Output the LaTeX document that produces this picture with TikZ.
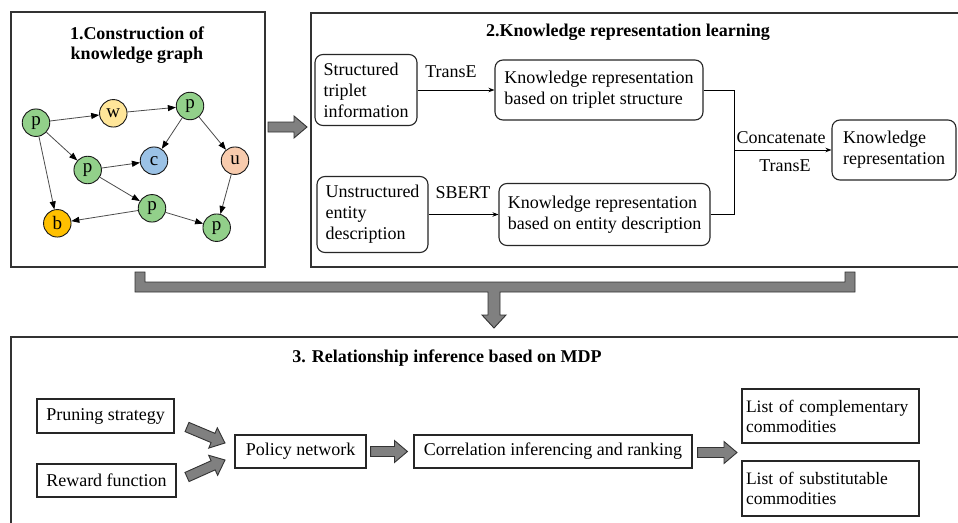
\documentclass[tikz,border=0pt]{standalone}
\usepackage{fontspec}
\setmainfont{Liberation Serif}[BoldFont={Liberation Serif Bold}]
\usetikzlibrary{arrows.meta,calc}
\definecolor{gp}{RGB}{146,208,138}
\definecolor{gw}{RGB}{255,230,153}
\definecolor{gc}{RGB}{155,194,230}
\definecolor{gu}{RGB}{248,203,173}
\definecolor{gb}{RGB}{255,192,0}
\newcommand\blockarr[2]{%
  \coordinate (hb) at ($(#2)!13pt!(#1)$);
  \draw[blk] ($(#1)!5pt!90:(#2)$) -- ($(hb)!5pt!-90:(#1)$) -- ($(hb)!11pt!-90:(#1)$) -- (#2)
    -- ($(hb)!11pt!90:(#1)$) -- ($(hb)!5pt!90:(#1)$) -- ($(#1)!5pt!-90:(#2)$) -- cycle;}
\begin{document}
\begin{tikzpicture}[x=1pt,y=-1pt,
  txt/.style={font=\fontsize{18}{21}\selectfont},
  ttl/.style={font=\fontsize{18}{20}\selectfont\bfseries, align=center},
  panel/.style={draw=black!80, line width=1.3pt},
  rbox/.style={draw=black!85, line width=1.1pt, rounded corners=8pt, align=left, inner sep=0pt, txt},
  sbox/.style={draw=black!85, line width=1.1pt, align=left, inner sep=0pt, txt},
  lbox/.style={draw=black!85, line width=1.1pt, align=left, inner xsep=4pt, inner ysep=0pt,
    text width=169pt, minimum width=177pt, font=\fontsize{17.5}{20}\selectfont},
  gnode/.style={circle, draw=black!90, line width=0.9pt, minimum size=27.5pt, inner sep=0pt, font=\fontsize{19}{21}\selectfont},
  gedge/.style={draw=black!70, line width=0.8pt, -{Triangle[length=8pt,width=6pt,fill=black,color=black]}},
  thin/.style={draw=black, line width=0.8pt, -{Stealth[length=6pt,width=4.5pt]}},
  blk/.style={fill=black!50, draw=black!80, line width=0.9pt, line join=miter}]
\useasboundingbox (0,0) rectangle (958,522);
\fill[white] (0,0) rectangle (958,522);
\begin{scope}
\clip (0,0) rectangle (958,522);
\draw[panel] (11,12) rectangle (265,267);
\draw[panel] (311,13) rectangle (975,267);
\draw[panel] (11,337) rectangle (975,540);
\end{scope}

% Panel 1
\node[ttl] (t1) at (137,45) {1.Construction of\\knowledge graph};
\node[gnode, fill=gp] (p1) at (36,122.7) {p};
\node[gnode, fill=gw] (w) at (113.3,113.3) {w};
\node[gnode, fill=gp] (pt) at (190,106) {p};
\node[gnode, fill=gc] (c) at (154,160.7) {c};
\node[gnode, fill=gu] (u) at (235,160.7) {u};
\node[gnode, fill=gp] (pm) at (87.7,170) {p};
\node[gnode, fill=gp] (pl) at (152,208.3) {p};
\node[gnode, fill=gb] (b) at (57.3,223.3) {b};
\node[gnode, fill=gp] (pr) at (216.7,227.7) {p};
\draw[gedge] (p1) -- (w);
\draw[gedge] (w) -- (pt);
\draw[gedge] (pt) -- (c);
\draw[gedge] (pt) -- (u);
\draw[gedge] (p1) -- (pm);
\draw[gedge] (pm) -- (c);
\draw[gedge] (p1) -- (b);
\draw[gedge] (pm) -- (pl);
\draw[gedge] (pl) -- (b);
\draw[gedge] (pl) -- (pr);
\draw[gedge] (u) -- (pr);

% Panel 1 -> Panel 2
\coordinate (a0s) at (268,127);
\coordinate (a0e) at (307,127);
\blockarr{a0s}{a0e}

% Panel 2
\node[ttl] (t2) at (628,32) {2.Knowledge representation learning};
\node[rbox, minimum width=102pt, minimum height=71pt] (st) at (366,90) {Structured\\triplet\\information};
\node[rbox, minimum width=208pt, minimum height=60pt] (kt) at (599,90) {Knowledge representation\\based on triplet structure};
\node[rbox, minimum width=111pt, minimum height=76pt] (ue) at (372.5,214.5) {Unstructured\\entity\\description};
\node[rbox, minimum width=211pt, minimum height=62pt] (ke) at (604.5,214.5) {Knowledge representation\\based on entity description};
\node[rbox, minimum width=124pt, minimum height=60pt] (kr) at (894,150) {Knowledge\\representation};
\draw[thin] (st) -- (kt);
\draw[thin] (ue) -- (ke);
\node[txt] (l1) at (451,72) {TransE};
\node[txt] (l2) at (463,193) {SBERT};
\coordinate (jx) at (734,150);
\draw[draw=black, line width=0.8pt] (kt.east) -| (jx);
\draw[draw=black, line width=0.8pt] (ke.east) -| (jx);
\draw[thin] (jx) -- (kr);
\node[txt] (l3) at (781,138) {Concatenate};
\node[txt] (l4) at (785,166) {TransE};

% Bracket arrow
\draw[blk] (135,272) -- (145,272) -- (145,282) -- (845,282) -- (845,272) -- (855,272)
  -- (855,292) -- (500,292) -- (500,315) -- (506,315) -- (494,328) -- (482,315)
  -- (488,315) -- (488,292) -- (135,292) -- cycle;

% Panel 3
\node[ttl] (t3) at (447,358) {3. Relationship inference based on MDP};
\node[sbox, minimum width=137pt, minimum height=34pt] (ps) at (105.5,416) {Pruning strategy};
\node[sbox, minimum width=139pt, minimum height=33pt] (rf) at (106.5,480.5) {Reward function};
\node[sbox, minimum width=131pt, minimum height=33pt] (pn) at (300.5,451.5) {Policy network};
\node[sbox, minimum width=278pt, minimum height=33pt] (ci) at (553,451.5) {Correlation inferencing and ranking};
\node[lbox, minimum height=54pt] (lc) at (830.5,416) {List of complementary\\commodities};
\node[lbox, minimum height=55pt] (ls) at (830.5,488.5) {List of substitutable\\commodities};
\coordinate (a1s) at (187,427);
\coordinate (a1e) at (225,443);
\coordinate (a2s) at (187,477);
\coordinate (a2e) at (225,460);
\coordinate (a3s) at ($(pn.east)+(4,0)$);
\coordinate (a3e) at ($(ci.west)+(-6,0)$);
\coordinate (a4s) at ($(ci.east)+(5,1)$);
\coordinate (a4e) at (737,452.5);
\blockarr{a1s}{a1e}
\blockarr{a2s}{a2e}
\blockarr{a3s}{a3e}
\blockarr{a4s}{a4e}
\end{tikzpicture}
\end{document}
